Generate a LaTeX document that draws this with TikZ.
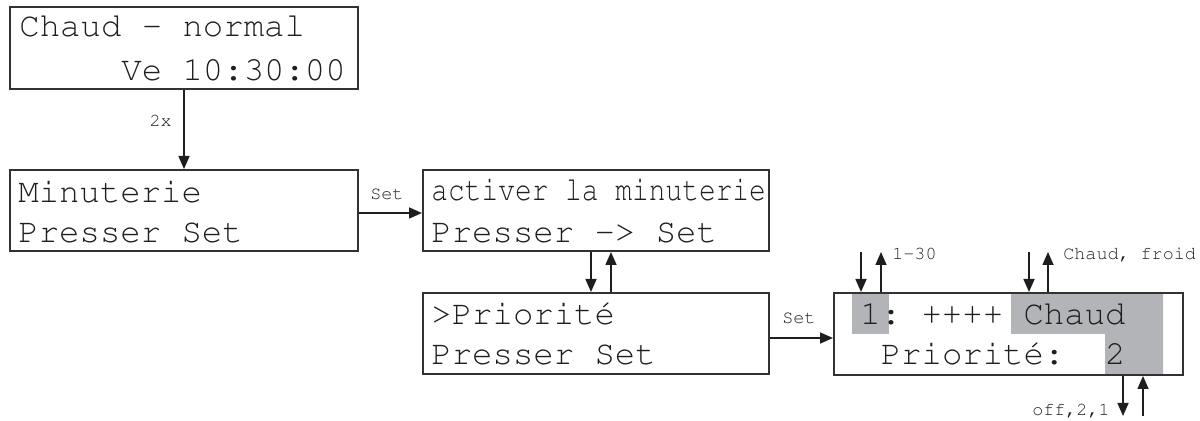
\documentclass[tikz,border=0pt]{standalone}
\usepackage[T1]{fontenc}
\usetikzlibrary{arrows.meta,fit}
\definecolor{ink}{RGB}{30,30,30}
\definecolor{frame}{RGB}{50,50,50}
\definecolor{hl}{RGB}{178,180,184}
\newcommand{\lcdfont}{\fontencoding{T1}\fontfamily{pcr}\selectfont}
\begin{document}
\begin{tikzpicture}[x=0.5pt,y=-0.5pt,
  box/.style={draw=frame, line width=1pt, inner sep=0pt},
  lcd/.style={anchor=base west, inner sep=0pt, text=ink,
              font=\lcdfont\fontsize{17}{17}\selectfont},
  tag/.style={inner sep=0pt, text=ink,
              font=\lcdfont\fontsize{9.2}{10}\selectfont},
  arr/.style={line width=0.8pt, draw=ink,
              -{Triangle[length=6.5pt,width=5.5pt]}}]
\useasboundingbox (0,0) rectangle (1200,421);

% highlighted fields of the edit screen
\fill[hl] (852,293) rectangle (889,334);
\fill[hl] (1011,293) -- (1163,293) -- (1163,375) -- (1105,375)
          -- (1105,334) -- (1011,334) -- cycle;

% display frames
\node[box, fit={(10,7) (358,89)}]    (b1) {};
\node[box, fit={(10,170) (358,251)}] (b2) {};
\node[box, fit={(423,170) (769,251)}] (b3) {};
\node[box, fit={(423,293) (769,374)}] (b4) {};
\node[box, fit={(834,293) (1183,375)}] (b5) {};

% display contents
\node[lcd] (t1a) at (19,37)  {Chaud~-~normal};
\node[lcd] (t1b) at (121,81) {Ve~10:30:00};
\node[lcd] (t2a) at (18,203) {Minuterie};
\node[lcd] (t2b) at (18,243) {Presser~Set};
\node[lcd] (t3a) at (431,201) {\scalebox{0.82}[1]{activer~la~minuterie}};
\node[lcd] (t3b) at (431,243) {Presser~-{}>~Set};
\node[lcd] (t4a) at (431,325) {>Priorit\'e};
\node[lcd] (t4b) at (431,365) {Presser~Set};
\node[lcd] (t5a) at (860,325) {1:~++++~Chaud};
\node[lcd] (t5b) at (860,365) {~Priorit\'e:~~2};

% free ends of the key arrows
\coordinate (k1) at (591,0);
\coordinate (k2) at (611,0);
\coordinate (n1) at (861,252);
\coordinate (n2) at (881,252);
\coordinate (c1) at (1029,252);
\coordinate (c2) at (1048,252);
\coordinate (p1) at (1123,416);
\coordinate (p2) at (1143,416);

% transitions
\draw[arr] (b1.south -| 184,0) -- (b2.north -| 184,0);
\draw[arr] (b2.east |- 0,213) -- (b3.west |- 0,213);
\draw[arr] (b3.south -| k1) -- (b4.north -| k1);
\draw[arr] (b4.north -| k2) -- (b3.south -| k2);
\draw[arr] (b4.east |- 0,338) -- (b5.west |- 0,338);

% up/down keys on the edit screen
\draw[arr] (n1) -- (b5.north -| n1);
\draw[arr] (b5.north -| n2) -- (n2);
\draw[arr] (c1) -- (b5.north -| c1);
\draw[arr] (b5.north -| c2) -- (c2);
\draw[arr] (b5.south -| p1) -- (p1);
\draw[arr] (p2) -- (b5.south -| p2);

% key labels
\node[tag, anchor=base east] (l1) at (172,127) {2x};
\node[tag, anchor=base west] (l2) at (370,200) {Set};
\node[tag, anchor=base west] (l3) at (782,324) {Set};
\node[tag, anchor=base west] (l4) at (892,260) {1-30};
\node[tag, anchor=base west] (l5) at (1063,260) {Chaud,~froid};
\node[tag, anchor=base east] (l6) at (1110,416) {off,2,1};
\end{tikzpicture}
\end{document}
